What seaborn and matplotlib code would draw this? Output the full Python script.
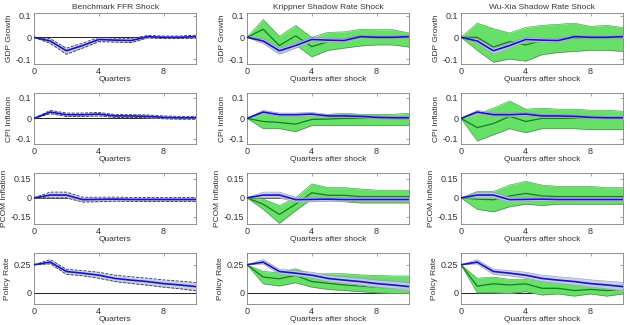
import pandas as pd
import numpy as np
import seaborn as sns
import matplotlib.pyplot as plt

quarters = list(range(11))
variables = ["GDP Growth", "CPI Inflation", "PCOM Inflation", "Policy Rate"]
titles = ["Benchmark FFR Shock", "Krippner Shadow Rate Shock", "Wu-Xia Shadow Rate Shock"]
xlabels = ["Quarters", "Quarters after shock", "Quarters after shock"]

# benchmark FFR response (blue) with bands
ffr_mid = {
    "GDP Growth": [0, -0.017, -0.062, -0.038, -0.01, -0.013, -0.015, 0.003, 0.0, 0.0, 0.003],
    "CPI Inflation": [0, 0.031, 0.018, 0.018, 0.021, 0.012, 0.012, 0.01, 0.005, 0.003, 0.003],
    "PCOM Inflation": [0, 0.022, 0.022, -0.014, -0.012, -0.01, -0.013, -0.013, -0.013, -0.013, -0.013],
    "Policy Rate": [0.25, 0.274, 0.19, 0.175, 0.157, 0.128, 0.113, 0.1, 0.082, 0.07, 0.055],
}
ffr_hi = {
    "GDP Growth": [0, -0.006, -0.05, -0.027, 0.0, -0.004, -0.005, 0.008, 0.006, 0.006, 0.01],
    "CPI Inflation": [0, 0.039, 0.026, 0.026, 0.029, 0.019, 0.018, 0.017, 0.012, 0.01, 0.01],
    "PCOM Inflation": [0, 0.045, 0.045, 0.005, 0.005, 0.006, 0.003, 0.003, 0.003, 0.003, 0.003],
    "Policy Rate": [0.25, 0.296, 0.21, 0.198, 0.183, 0.157, 0.143, 0.13, 0.115, 0.104, 0.092],
}
ffr_lo = {
    "GDP Growth": [0, -0.028, -0.078, -0.05, -0.02, -0.022, -0.025, -0.003, -0.006, -0.006, -0.004],
    "CPI Inflation": [0, 0.023, 0.009, 0.009, 0.012, 0.005, 0.005, 0.003, -0.002, -0.004, -0.004],
    "PCOM Inflation": [0, 0.0, 0.0, -0.033, -0.03, -0.026, -0.028, -0.029, -0.029, -0.029, -0.029],
    "Policy Rate": [0.25, 0.258, 0.165, 0.152, 0.13, 0.1, 0.083, 0.068, 0.05, 0.036, 0.018],
}

# Krippner shadow rate response (green)
kr_mid = {
    "GDP Growth": [0, 0.037, -0.038, 0.007, -0.043, -0.02, -0.01, 0.0, 0.0, 0.0, -0.005],
    "CPI Inflation": [0, -0.015, -0.02, -0.028, -0.005, -0.003, 0.0, 0.0, 0.0, -0.003, -0.005],
    "PCOM Inflation": [0, -0.05, -0.13, -0.05, 0.04, 0.02, 0.02, 0.01, 0.01, 0.01, 0.01],
    "Policy Rate": [0.25, 0.14, 0.125, 0.155, 0.1, 0.085, 0.07, 0.06, 0.05, 0.04, 0.035],
}
kr_hi = {
    "GDP Growth": [0, 0.082, 0.005, 0.055, 0.0, 0.023, 0.025, 0.037, 0.035, 0.035, 0.02],
    "CPI Inflation": [0, 0.02, 0.01, 0.01, 0.02, 0.02, 0.025, 0.02, 0.02, 0.02, 0.025],
    "PCOM Inflation": [0, -0.01, -0.06, 0.0, 0.11, 0.08, 0.08, 0.07, 0.06, 0.06, 0.06],
    "Policy Rate": [0.25, 0.19, 0.18, 0.215, 0.165, 0.17, 0.17, 0.16, 0.155, 0.15, 0.15],
}
kr_lo = {
    "GDP Growth": [0, -0.01, -0.075, -0.035, -0.09, -0.06, -0.05, -0.04, -0.035, -0.035, -0.045],
    "CPI Inflation": [0, -0.05, -0.05, -0.065, -0.035, -0.035, -0.035, -0.035, -0.035, -0.035, -0.035],
    "PCOM Inflation": [0, -0.09, -0.2, -0.1, -0.01, -0.02, -0.03, -0.04, -0.04, -0.04, -0.04],
    "Policy Rate": [0.25, 0.08, 0.06, 0.09, 0.05, 0.03, 0.02, 0.01, 0.0, -0.005, -0.005],
}

# Wu-Xia shadow rate response (green)
wx_mid = {
    "GDP Growth": [0, 0.0, -0.045, -0.02, -0.035, -0.015, -0.01, -0.005, -0.005, -0.005, -0.005],
    "CPI Inflation": [0, -0.045, -0.025, 0.01, -0.015, 0.0, 0.0, 0.0, 0.0, 0.0, 0.0],
    "PCOM Inflation": [0, -0.01, -0.015, 0.015, 0.035, 0.015, 0.01, 0.01, 0.01, 0.01, 0.01],
    "Policy Rate": [0.25, 0.06, 0.08, 0.07, 0.08, 0.04, 0.04, 0.02, 0.03, 0.02, 0.03],
}
wx_hi = {
    "GDP Growth": [0, 0.065, 0.04, 0.02, 0.045, 0.055, 0.06, 0.065, 0.05, 0.055, 0.045],
    "CPI Inflation": [0, 0.02, 0.05, 0.085, 0.045, 0.05, 0.045, 0.045, 0.04, 0.04, 0.035],
    "PCOM Inflation": [0, 0.05, 0.05, 0.1, 0.13, 0.1, 0.09, 0.09, 0.09, 0.08, 0.08],
    "Policy Rate": [0.25, 0.13, 0.14, 0.12, 0.12, 0.1, 0.09, 0.07, 0.09, 0.06, 0.08],
}
wx_lo = {
    "GDP Growth": [0, -0.06, -0.115, -0.1, -0.11, -0.08, -0.07, -0.065, -0.06, -0.06, -0.065],
    "CPI Inflation": [0, -0.11, -0.08, -0.05, -0.07, -0.05, -0.05, -0.05, -0.055, -0.055, -0.055],
    "PCOM Inflation": [0, -0.09, -0.11, -0.07, -0.05, -0.06, -0.05, -0.05, -0.05, -0.05, -0.05],
    "Policy Rate": [0.25, 0.0, 0.0, -0.005, 0.01, -0.02, -0.01, -0.03, -0.01, -0.03, -0.01],
}

ylims = {
    "GDP Growth": (-0.123, 0.112),
    "CPI Inflation": (-0.125, 0.124),
    "PCOM Inflation": (-0.205, 0.195),
    "Policy Rate": (-0.1, 0.355),
}
yticks = {
    "GDP Growth": [-0.1, 0, 0.1],
    "CPI Inflation": [-0.1, 0, 0.1],
    "PCOM Inflation": [-0.15, 0, 0.15],
    "Policy Rate": [0, 0.25],
}
yticklabels = {
    "GDP Growth": ["-0.1", "0", "0.1"],
    "CPI Inflation": ["-0.1", "0", "0.1"],
    "PCOM Inflation": ["-0.15", "0", "0.15"],
    "Policy Rate": ["0", "0.25"],
}

sns.set_style("white")
plt.rcParams['font.family'] = ['Liberation Sans', 'DejaVu Sans']
plt.rcParams['font.size'] = 6

fig = plt.figure(figsize=(6.3, 3.25), dpi=100)
W, H = 630, 325
col_left = [34, 247, 461]
row_top = [13, 93, 173, 253]
aw, ah = 162, 51

blue = "#1414c4"
blue_band = "#c3c9ee"
green_band = "#66e066"
green_line = "#177a24"
green_edge = "#3a8a3a"
txt = "#333333"

alt = [None, (kr_mid, kr_hi, kr_lo), (wx_mid, wx_hi, wx_lo)]

for r, var in enumerate(variables):
    for c in range(3):
        ax = fig.add_axes([col_left[c] / W, 1 - (row_top[r] + ah) / H, aw / W, ah / H])
        ax.axhline(0, color="#222222", lw=0.7, zorder=1)
        if alt[c] is not None:
            mid, hi, lo = alt[c]
            ax.fill_between(quarters, lo[var], hi[var], color=green_band, zorder=2, lw=0)
            df_alt = pd.DataFrame({"q": quarters, "hi": hi[var], "lo": lo[var], "mid": mid[var]})
            sns.lineplot(data=df_alt, x="q", y="hi", ax=ax, color=green_edge, lw=0.4, zorder=3)
            sns.lineplot(data=df_alt, x="q", y="lo", ax=ax, color=green_edge, lw=0.4, zorder=3)
            sns.lineplot(data=df_alt, x="q", y="mid", ax=ax, color=green_line, lw=0.9, zorder=4)
        ax.fill_between(quarters, ffr_lo[var], ffr_hi[var], color=blue_band, zorder=5, lw=0, alpha=0.9)
        df = pd.DataFrame({"q": quarters, "hi": ffr_hi[var], "lo": ffr_lo[var], "mid": ffr_mid[var]})
        if c == 0:
            sns.lineplot(data=df, x="q", y="hi", ax=ax, color="#303040", lw=0.6, ls="--", zorder=6)
            sns.lineplot(data=df, x="q", y="lo", ax=ax, color="#303040", lw=0.6, ls="--", zorder=6)
        else:
            sns.lineplot(data=df, x="q", y="hi", ax=ax, color="#9a9ab0", lw=0.5, zorder=6)
            sns.lineplot(data=df, x="q", y="lo", ax=ax, color="#9a9ab0", lw=0.5, zorder=6)
        sns.lineplot(data=df, x="q", y="mid", ax=ax, color=blue, lw=1.2, zorder=7)

        ax.set_xlim(0, 10)
        ax.set_ylim(*ylims[var])
        ax.set_xticks([0, 4, 8])
        ax.set_yticks(yticks[var])
        ax.set_yticklabels(yticklabels[var])
        ax.set_xlabel(xlabels[c], fontsize=6, labelpad=0, color=txt)
        ax.set_ylabel(var, fontsize=6, labelpad=2, color=txt)
        ax.tick_params(direction="in", length=2, width=0.5, pad=2, labelsize=6.5,
                       top=True, right=True, colors="#808080", labelcolor=txt)
        for s in ax.spines.values():
            s.set_linewidth(0.6)
            s.set_color("#808080")
        if r == 0:
            ax.set_title(titles[c], fontsize=6, pad=3, color=txt)

fig.savefig("out.png", dpi=100)
